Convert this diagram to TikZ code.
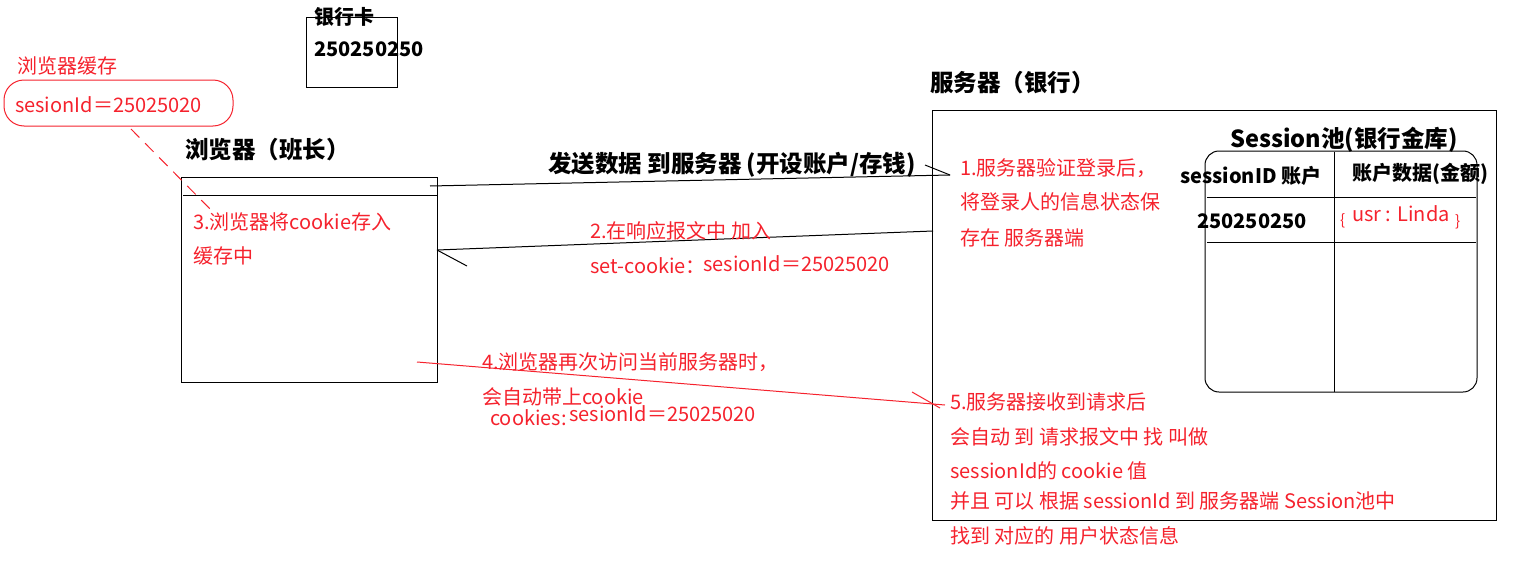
\documentclass[tikz,border=0pt]{standalone}
\usepackage{fontspec}
\setmainfont{Noto Sans CJK SC}
\definecolor{myred}{HTML}{F5222D}
\tikzset{
  redtxt/.style={anchor=west, inner sep=0pt, text=myred, font=\fontsize{20}{20}\selectfont},
  boldtxt/.style={anchor=west, inner sep=0pt, font=\bfseries\fontsize{23.5}{23.5}\selectfont},
  boldsmall/.style={anchor=west, inner sep=0pt, font=\bfseries\fontsize{20}{20}\selectfont},
  boldnum/.style={anchor=west, inner sep=0pt, font=\bfseries\fontsize{20}{20}\selectfont},
  bracetxt/.style={anchor=west, inner sep=0pt, text=myred, font=\fontsize{15}{15}\selectfont},
  blackline/.style={draw=black, line width=1pt},
  redline/.style={draw=myred, line width=1pt},
  boxstyle/.style={draw=black, line width=1pt, inner sep=0pt, fill=none},
}
\begin{document}
\begin{tikzpicture}[x=1pt,y=-1pt]
\useasboundingbox (0,0) rectangle (1521,562);

% bank card
\node[boxstyle, minimum width=91pt, minimum height=70pt] (card) at (351.5,52) {};
\node[boldsmall] (cardt) at (314,17) {银行卡};
\node[boldnum] (cardn) at (314,49) {250250250};

% browser cache
\node[draw=myred, line width=1pt, rounded corners=20pt, minimum width=229pt, minimum height=46pt, inner sep=0pt] (cache) at (118.5,103) {};
\node[redtxt] (cachet) at (17,66) {浏览器缓存};
\node[redtxt] (cachev) at (15,105) {sesionId＝25025020};

% browser
\node[boldtxt] (browsert) at (185,150) {浏览器（班长）};
\node[boxstyle, minimum width=256pt, minimum height=205pt] (browser) at (309,279.5) {};
\draw[blackline] (183,195) -- (437,195);
\node[redtxt] (b3a) at (193,222) {3.浏览器将cookie存入};
\node[redtxt] (b3b) at (193,256) {缓存中};

% dashed link from cache to browser
\coordinate (ds) at (131,129);
\coordinate (de) at (213,212);
\draw[redline, dash pattern=on 12pt off 8pt] (ds) -- (de);

% server
\node[boldtxt] (servert) at (930,83) {服务器（银行）};
\node[boxstyle, minimum width=564pt, minimum height=410pt] (server) at (1214,315) {};
\node[redtxt] (s1a) at (960,168) {1.服务器验证登录后，};
\node[redtxt] (s1b) at (960,202) {将登录人的信息状态保};
\node[redtxt] (s1c) at (960,238) {存在 服务器端};

% session pool
\node[boldtxt] (poolt) at (1230,140) {Session池(银行金库)};
\node[draw=black, line width=1pt, rounded corners=14pt, minimum width=272pt, minimum height=241pt, inner sep=0pt] (pool) at (1341,271.5) {};
\draw[blackline] (1334,152) -- (1334,392);
\draw[blackline] (1207,197) -- (1476,197);
\draw[blackline] (1207,242) -- (1476,242);
\node[boldsmall] (h1) at (1180,176) {sessionID 账户};
\node[boldsmall] (h2) at (1352,174) {账户数据(金额)};
\node[boldnum] (r1) at (1197,221) {250250250};
\node[bracetxt] (r2a) at (1340,221) {\{};
\node[redtxt] (r2b) at (1352,214) {usr : Linda};
\node[bracetxt] (r2c) at (1455,222) {\}};

% arrow 1: send data
\node[boldtxt] (sendt) at (548,165) {发送数据 到服务器 (开设账户/存钱)};
\coordinate (a1s) at (430,186);
\coordinate (a1e) at (950,175);
\coordinate (a1b) at (925,165);
\draw[blackline] (a1s) -- (a1e);
\draw[blackline] (a1b) -- (a1e);

% arrow 2: response
\coordinate (a2s) at (933,231);
\coordinate (a2e) at (437,250);
\coordinate (a2b) at (467,266);
\draw[blackline] (a2s) -- (a2e);
\draw[blackline] (a2b) -- (a2e);
\node[redtxt] (t2a) at (590,231) {2.在响应报文中 加入};
\node[redtxt] (t2b) at (590,266) {set-cookie：};
\node[redtxt] (t2c) at (703,264) {sesionId＝25025020};

% arrow 4: request again
\coordinate (a4s) at (417,362);
\coordinate (a4e) at (945,405);
\coordinate (a4b) at (912,392);
\coordinate (a4c) at (940,408);
\draw[redline] (a4s) -- (a4e);
\draw[redline] (a4b) -- (a4c);
\node[redtxt] (t4a) at (482,362) {4.浏览器再次访问当前服务器时，};
\node[redtxt] (t4b) at (482,397) {会自动带上cookie};
\node[redtxt] (t4c) at (490,418) {cookies:};
\node[redtxt] (t4d) at (569,414) {sesionId＝25025020};

% step 5
\node[redtxt] (s5a) at (950,402) {5.服务器接收到请求后};
\node[redtxt] (s5b) at (950,437) {会自动 到 请求报文中 找 叫做};
\node[redtxt] (s5c) at (950,471) {sessionId的 cookie 值};
\node[redtxt] (s5d) at (950,501) {并且 可以 根据 sessionId 到 服务器端 Session池中};
\node[redtxt] (s5e) at (950,536) {找到 对应的 用户状态信息};
\end{tikzpicture}
\end{document}
